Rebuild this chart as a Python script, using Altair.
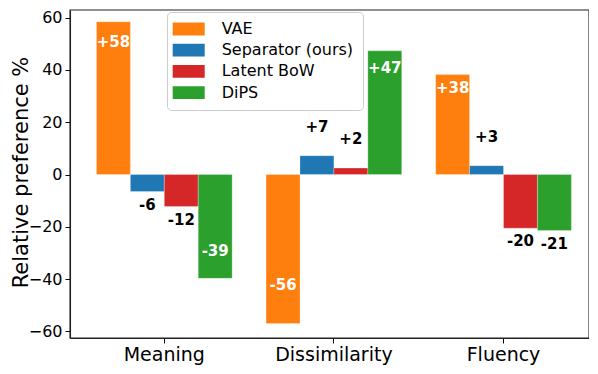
import altair as alt
import pandas as pd

categories = ["Meaning", "Dissimilarity", "Fluency"]
methods = ["VAE", "Separator (ours)", "Latent BoW", "DiPS"]
colors = ["#ff7f0e", "#1f77b4", "#d62728", "#2ca02c"]

vae = [58.4, -57.0, 38.2]
separator = [-6.5, 7.2, 3.4]
latent_bow = [-12.2, 2.5, -20.5]
dips = [-39.7, 47.3, -21.4]

vae_labels = ["+58", "-56", "+38"]
separator_labels = ["-6", "+7", "+3"]
latent_bow_labels = ["-12", "+2", "-20"]
dips_labels = ["-39", "+47", "-21"]

y_ticks = [-60, -40, -20, 0, 20, 40, 60]

series = [vae, separator, latent_bow, dips]
series_labels = [vae_labels, separator_labels, latent_bow_labels, dips_labels]
rows = []
for m, vals, labs in zip(methods, series, series_labels):
    for c, v, l in zip(categories, vals, labs):
        rows.append({"category": c, "method": m, "value": v, "label": l})
df = pd.DataFrame(rows)

FONT = "DejaVu Sans"
W, H = 519, 328

x_enc = alt.X(
    "category:N",
    sort=categories,
    scale=alt.Scale(paddingInner=0.2, paddingOuter=0.13, align=0.6),
    axis=alt.Axis(
        title=None, labelAngle=0, labelFontSize=19, labelFont=FONT, labelColor="black",
        tickSize=5, tickColor="black", tickWidth=1, labelPadding=2,
        domainColor="#222222", domainWidth=1.1,
    ),
)
xoff_enc = alt.XOffset("method:N", sort=methods, scale=alt.Scale(paddingInner=0, paddingOuter=0))
y_scale = alt.Scale(domain=[-62.5, 62.9], nice=False, zero=False)
y_axis = alt.Axis(
    values=y_ticks, grid=False, title="Relative preference %",
    titleFontSize=21, titleFont=FONT, titleFontWeight="normal", titleColor="black",
    titleX=-39, titleY=162,
    labelFontSize=16, labelFont=FONT, labelColor="black",
    labelPadding=3, tickSize=5, tickColor="black", tickWidth=1,
    domainColor="#222222", domainWidth=1.1,
)

base = alt.Chart(df)

bars = base.mark_bar(stroke="white", strokeWidth=0.6, strokeOpacity=0.45).encode(
    x=x_enc,
    xOffset=xoff_enc,
    y=alt.Y("value:Q", scale=y_scale, axis=y_axis),
    y2=alt.datum(0),
    color=alt.Color(
        "method:N", sort=methods,
        scale=alt.Scale(domain=methods, range=colors),
        legend=alt.Legend(
            title=None, orient="none", legendX=97, legendY=2, direction="vertical",
            symbolType="M-2,-0.8H2V0.8H-2Z", symbolSize=256, symbolStrokeWidth=0,
            symbolOffset=4.7,
            labelFontSize=16, labelFont=FONT, labelColor="black",
            fillColor="white", strokeColor="#cccccc", cornerRadius=4,
            padding=9, rowPadding=5.2, labelOffset=25,
        ),
    ),
)

labels = base.transform_calculate(
    inside="abs(datum.value) > 30",
    ly="abs(datum.value) > 30 ? (datum.value > 0 ? datum.value * 0.865 : datum.value * 0.74) : (datum.value > 0 ? datum.value + 11 : datum.value - 5.1)",
).mark_text(fontWeight="bold", fontSize=15, font=FONT, baseline="middle").encode(
    x=x_enc,
    xOffset=xoff_enc,
    y=alt.Y("ly:Q", scale=y_scale, axis=y_axis),
    text="label:N",
    color=alt.condition("datum.inside", alt.value("white"), alt.value("black")),
)

frame = alt.Chart(pd.DataFrame({"frame": [0]})).mark_rect(
    fill="transparent", stroke="#222222", strokeWidth=1.1
).encode(
    x=alt.value(0), x2=alt.value(W), y=alt.value(0), y2=alt.value(H)
)

chart = alt.layer(bars, labels, frame).properties(
    width=W, height=H,
    padding={"left": 62, "top": 2, "right": 0, "bottom": 27},
    autosize=alt.AutoSizeParams(type="none"),
).configure(font=FONT).configure_view(strokeWidth=0)

chart.save("out.html", embed_options={"renderer": "svg", "actions": False})
